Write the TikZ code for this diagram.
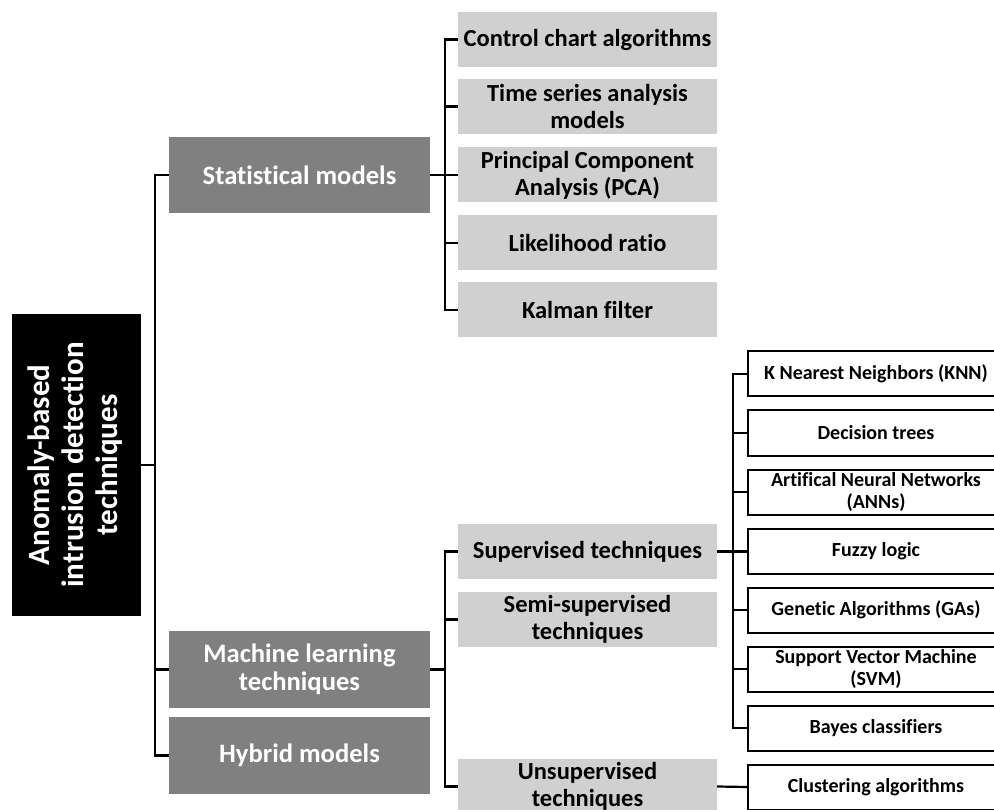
\documentclass[tikz,border=0pt]{standalone}
\usepackage{fontspec}
\setmainfont{Carlito}[Ligatures={NoCommon,NoRequired,NoContextual}]
\definecolor{darkbox}{RGB}{128,128,128}
\definecolor{lightbox}{RGB}{208,208,208}
\tikzset{
  rootbox/.style={fill=black, text=white, inner sep=0pt, minimum width=129pt, minimum height=302pt, font=\bfseries\fontsize{31}{34}\selectfont, align=center},
  darkbox/.style={fill=darkbox, text=white, inner sep=0pt, minimum width=261pt, minimum height=77pt, font=\bfseries\fontsize{26.6}{28}\selectfont, align=center},
  lightbox/.style={fill=lightbox, text=black, inner sep=0pt, minimum width=259pt, minimum height=55pt, font=\bfseries\fontsize{24.5}{27}\selectfont, align=center},
  whitebox/.style={draw=black, line width=2pt, fill=white, text=black, inner sep=0pt, minimum width=256pt, minimum height=45pt, font=\bfseries\fontsize{20}{22}\selectfont, align=center},
  conn/.style={draw=black, line width=2.2pt},
}
\begin{document}
\begin{tikzpicture}[x=1pt,y=-1pt]
\useasboundingbox (0,0) rectangle (994,810);
% root
\node[rootbox] (root) at (76.5,465) {\rotatebox{90}{\begin{tabular}{@{}c@{}}Anomaly-based\\intrusion detection\\techniques\end{tabular}}};
% level 1
\node[darkbox, minimum height=76pt] (stat) at (299.5,175) {Statistical models};
\node[darkbox] (ml) at (299.5,669.5) {Machine learning\\techniques};
\node[darkbox] (hyb) at (299.5,755.5) {Hybrid models};
% statistical children
\node[lightbox] (cc) at (587.5,39.5) {Control chart algorithms};
\node[lightbox] (ts) at (587.5,106.5) {Time series analysis\\models};
\node[lightbox] (pca) at (587.5,175) {Principal Component\\Analysis (PCA)};
\node[lightbox] (lr) at (587.5,243) {Likelihood ratio};
\node[lightbox] (kf) at (587.5,310) {Kalman filter};
% ML children
\node[lightbox] (sup) at (587.5,551.5) {Supervised techniques};
\node[lightbox] (semi) at (587.5,619.5) {Semi-supervised\\techniques};
\node[lightbox] (uns) at (587.5,786.5) {Unsupervised\\techniques};
% supervised children
\node[whitebox] (knn) at (876,374) {K Nearest Neighbors (KNN)};
\node[whitebox] (dt) at (876,433) {Decision trees};
\node[whitebox] (ann) at (876,492) {Artifical Neural Networks\\(ANNs)};
\node[whitebox] (fz) at (876,551.5) {Fuzzy logic};
\node[whitebox] (ga) at (876,610) {Genetic Algorithms (GAs)};
\node[whitebox] (svm) at (876,669) {Support Vector Machine\\(SVM)};
\node[whitebox] (bay) at (876,728) {Bayes classifiers};
\node[whitebox] (clu) at (876,787) {Clustering algorithms};
% connectors level 0-1
\draw[conn] (stat.west) -- ++(-14,0) |- (hyb.west);
\draw[conn] (ml.west) -- ++(-14,0);
\draw[conn] (root.east) -- ++(14,0);
% statistical
\draw[conn] (cc.west) -- ++(-13,0) |- (kf.west);
\draw[conn] (ts.west) -- ++(-13,0);
\draw[conn] (lr.west) -- ++(-13,0);
\draw[conn] (stat.east) -- (pca.west);
% ML
\draw[conn] (sup.west) -- ++(-13,0) |- (uns.west);
\draw[conn] (semi.west) -- ++(-13,0);
\draw[conn] (ml.east) -- ++(15,0);
% supervised
\draw[conn] (knn.west) -- ++(-14,0) |- (bay.west);
\draw[conn] (dt.west) -- ++(-14,0);
\draw[conn] (ann.west) -- ++(-14,0);
\draw[conn] (ga.west) -- ++(-14,0);
\draw[conn] (svm.west) -- ++(-14,0);
\draw[conn] (sup.east) -- (fz.west);
% unsupervised
\draw[conn] (uns.east) -- (clu.west);
\end{tikzpicture}
\end{document}
